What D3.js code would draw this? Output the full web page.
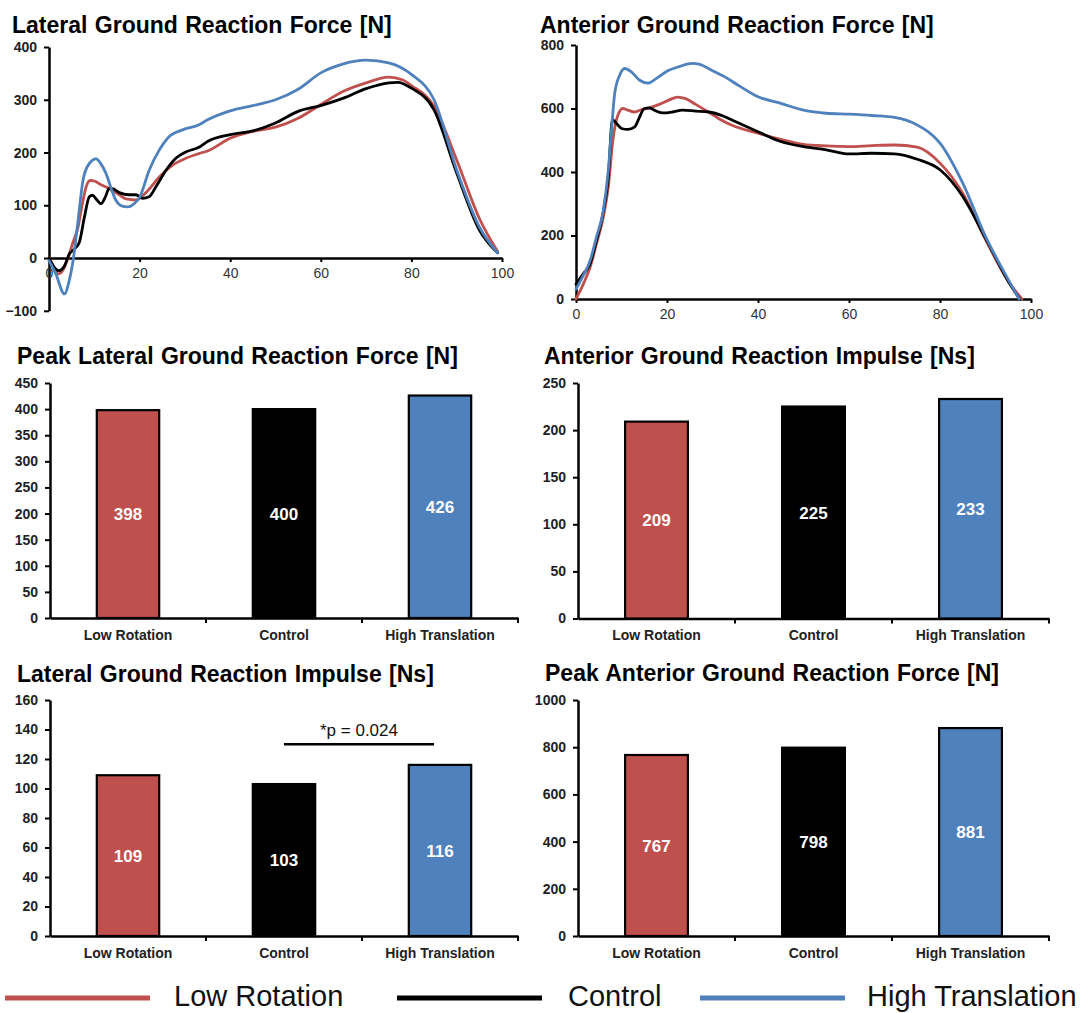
<!DOCTYPE html>
<html>
<head>
<meta charset="utf-8">
<script src="https://cdn.jsdelivr.net/npm/d3@7"></script>
<style>
  html, body { margin: 0; padding: 0; background: #fff; }
  svg { display: block; font-family: "Liberation Sans", Arial, sans-serif; }
</style>
</head>
<body>
<svg id="chart" width="1088" height="1013"></svg>
<script>
// ---------------- DATA ----------------
const categories = ["Low Rotation", "Control", "High Translation"];
const seriesNames = ["Low Rotation", "Control", "High Translation"];
const seriesColors = ["#C0504D", "#000000", "#4F81BD"];

// Lateral Ground Reaction Force [N] vs % stance
const latLow = [[0,0],[1,-15],[2,-30],[3,-24],[4.2,0],[5.3,30],[6.4,58],[7.3,100],[8.2,135],[9.1,147],[10,146],[11.1,141],[12.5,135],[14,128],[15.5,120],[17,112],[19.2,110],[21.4,124],[24.3,153],[27.3,176],[30.2,189],[33.1,198],[35,203],[40,227],[45,240],[50,248],[55,265],[60,291],[65,316],[70,332],[75,343],[78,338],[80,327],[85,288],[90,186],[95,75],[99,13]];
const latCtrl = [[0,0],[1.2,-18],[2.2,-24],[3.4,-15],[4.5,8],[5.6,17],[6.7,30],[7.8,77],[8.9,116],[9.6,119],[10.4,112],[11.5,103],[12.4,115],[13.3,132],[14.2,131],[15.5,124],[17.7,120],[19.2,120],[20.7,113],[22.1,116],[23.6,135],[25.8,166],[28,189],[30.2,201],[33.1,210],[35,221],[40,234],[45,241],[50,256],[55,278],[60,289],[65,303],[70,321],[75,332],[77,333],[80,322],[85,281],[90,161],[95,53],[99,10]];
const latHigh = [[0,-5],[1.5,-30],[3.4,-68],[4.4,-45],[5.4,0],[6.4,70],[7.5,147],[8.8,178],[10.4,188],[11.5,178],[12.6,160],[14,125],[14.8,109],[16,99],[17.4,97],[18.8,103],[20,115],[22.1,166],[24.3,204],[26.5,230],[29.5,243],[33,252],[35,262],[40,279],[45,289],[50,300],[55,320],[60,351],[65,368],[70,375],[75,370],[80,348],[85,300],[90,167],[95,59],[99,10]];

// Anterior Ground Reaction Force [N] vs % stance
const antLow = [[0,0],[1.6,47],[3.1,100],[4.5,174],[6,258],[7.1,353],[8.1,500],[9.2,579],[10.3,600],[11.4,595],[12.9,589],[14.3,596],[16.1,602],[18.3,613],[20.5,627],[22.3,636],[24.1,631],[26.3,613],[28.5,594],[31.4,568],[34.3,547],[40,522],[45,503],[50,487],[55,482],[60,480],[65,483],[70,485],[75,478],[80,428],[85,333],[90,187],[95,56],[98,0]];
const antCtrl = [[0,47],[1.6,79],[3.1,111],[4.5,184],[6,274],[7.1,384],[8,565],[8.9,553],[10,537],[11.4,534],[12.9,542],[14,574],[15,600],[16.1,602],[17.6,592],[19.1,586],[21.2,589],[23.4,595],[26.3,592],[29.2,589],[32.2,577],[35,559],[40,527],[45,496],[50,480],[55,470],[60,457],[65,459],[70,457],[75,440],[80,407],[85,323],[90,192],[95,56],[97.5,0]];
const antHigh = [[0,31],[1.6,74],[3.1,121],[4.5,195],[6,279],[7.1,405],[7.8,532],[8.5,647],[9.6,705],[10.7,726],[12.1,716],[14,689],[15.8,680],[17.6,694],[19.8,716],[22.7,732],[25.6,742],[27,740],[30,719],[32.9,698],[35.8,672],[40,637],[45,616],[50,595],[55,585],[60,582],[65,578],[70,572],[75,548],[80,491],[85,365],[90,197],[95,61],[97.4,0]];

// Bar values
const peakLateral = [398, 400, 426];
const antImpulse = [209, 225, 233];
const latImpulse = [109, 103, 116];
const peakAnterior = [767, 798, 881];

const latTicks = [-100, 0, 100, 200, 300, 400];
const antTicks = [0, 200, 400, 600, 800];
const pctTicks = [0, 20, 40, 60, 80, 100];
const peakLatTicks = [0, 50, 100, 150, 200, 250, 300, 350, 400, 450];
const antImpTicks = [0, 50, 100, 150, 200, 250];
const latImpTicks = [0, 20, 40, 60, 80, 100, 120, 140, 160];
const peakAntTicks = [0, 200, 400, 600, 800, 1000];

const sigLabel = "*p = 0.024";

// ---------------- DRAW ----------------
const svg = d3.select("#chart");
svg.append("rect").attr("width", 1088).attr("height", 1013).attr("fill", "#fff");

function title(x, y, text) {
  svg.append("text").attr("x", x).attr("y", y)
    .attr("font-size", 23).attr("font-weight", "bold").attr("fill", "#000")
    .attr("word-spacing", 1)
    .text(text);
}

function styleAxis(g) {
  g.select(".domain").attr("stroke", "#000").attr("stroke-width", 2.5);
  g.selectAll(".tick line").attr("stroke", "#000").attr("stroke-width", 2);
}

function yAxis(x0, y, ticks) {
  const g = svg.append("g").attr("transform", `translate(${x0},0)`)
    .call(d3.axisLeft(y).tickValues(ticks).tickSize(5).tickSizeOuter(0).tickPadding(7).tickFormat(d3.format("d")));
  styleAxis(g);
  g.selectAll(".tick text").attr("font-size", 14).attr("font-weight", "bold").attr("fill", "#222")
    .attr("font-family", "Liberation Sans, Arial, sans-serif");
  return g;
}

function lineChart(cfg) {
  const x = d3.scaleLinear().domain([0, 100]).range(cfg.xr);
  const y = d3.scaleLinear().domain(cfg.yd).range(cfg.yr);
  const line = d3.line().x(d => x(d[0])).y(d => y(d[1])).curve(d3.curveMonotoneX);
  yAxis(cfg.xr[0], y, cfg.yTicks);
  const gx = svg.append("g").attr("transform", `translate(0,${y(0)})`)
    .call(d3.axisBottom(x).tickValues(pctTicks).tickSize(4).tickSizeOuter(0).tickPadding(6));
  styleAxis(gx);
  gx.selectAll(".tick text").attr("font-size", 14).attr("fill", "#333")
    .attr("font-family", "Liberation Sans, Arial, sans-serif");
  cfg.series.forEach((s, i) => {
    svg.append("path").datum(s).attr("d", line)
      .attr("fill", "none").attr("stroke", seriesColors[i]).attr("stroke-width", 2.8)
      .attr("stroke-linejoin", "round").attr("stroke-linecap", "round");
  });
  title(cfg.tx, cfg.ty, cfg.title);
}

lineChart({ xr: [49, 502], yd: [-100, 400], yr: [310.8, 47], yTicks: latTicks,
  series: [latLow, latCtrl, latHigh], title: "Lateral Ground Reaction Force [N]", tx: 12, ty: 33 });
lineChart({ xr: [576, 1031], yd: [0, 800], yr: [299, 45], yTicks: antTicks,
  series: [antLow, antCtrl, antHigh], title: "Anterior Ground Reaction Force [N]", tx: 540, ty: 33 });

function barChart(cfg) {
  const x = d3.scaleBand().domain(categories).range(cfg.xr).paddingInner(0.6).paddingOuter(0.3);
  const y = d3.scaleLinear().domain([0, cfg.ticks[cfg.ticks.length - 1]]).range(cfg.yr);
  yAxis(cfg.xr[0], y, cfg.ticks);
  const gx = svg.append("g").attr("transform", `translate(0,${cfg.yr[0]})`)
    .call(d3.axisBottom(x).tickSize(0).tickSizeOuter(0).tickPadding(12));
  styleAxis(gx);
  gx.selectAll(".tick text").attr("font-size", 14).attr("font-weight", "bold").attr("fill", "#222")
    .attr("font-family", "Liberation Sans, Arial, sans-serif");
  const step = x.step();
  const bounds = d3.range(categories.length + 1).map(i => cfg.xr[0] + i * step);
  gx.selectAll(".bt").data(bounds.slice(1)).enter().append("line")
    .attr("x1", d => d).attr("x2", d => d).attr("y1", 0).attr("y2", 5)
    .attr("stroke", "#000").attr("stroke-width", 2);
  svg.append("g").selectAll("rect").data(cfg.values).enter().append("rect")
    .attr("x", (d, i) => x(categories[i]))
    .attr("y", d => y(d))
    .attr("width", x.bandwidth())
    .attr("height", d => y(0) - y(d))
    .attr("fill", (d, i) => seriesColors[i])
    .attr("stroke", "#000").attr("stroke-width", 2.2);
  svg.append("g").selectAll("text").data(cfg.values).enter().append("text")
    .attr("x", (d, i) => x(categories[i]) + x.bandwidth() / 2)
    .attr("y", d => (y(d) + y(0)) / 2)
    .attr("dy", "0.36em")
    .attr("text-anchor", "middle")
    .attr("font-size", 17).attr("font-weight", "bold").attr("fill", "#fff")
    .text(d => d);
  title(cfg.tx, cfg.ty, cfg.title);
  return { x, y };
}

barChart({ xr: [50, 518], yr: [618, 383], ticks: peakLatTicks, values: peakLateral,
  title: "Peak Lateral Ground Reaction Force [N]", tx: 17, ty: 364 });
barChart({ xr: [578, 1049], yr: [618.5, 383], ticks: antImpTicks, values: antImpulse,
  title: "Anterior Ground Reaction Impulse [Ns]", tx: 544, ty: 364 });
const li = barChart({ xr: [50, 518], yr: [936, 700], ticks: latImpTicks, values: latImpulse,
  title: "Lateral Ground Reaction Impulse [Ns]", tx: 17, ty: 682 });
barChart({ xr: [578, 1049], yr: [936, 700], ticks: peakAntTicks, values: peakAnterior,
  title: "Peak Anterior Ground Reaction Force [N]", tx: 545, ty: 681 });

// significance bar (Control to High Translation)
{
  const cx1 = li.x(categories[1]) + li.x.bandwidth() / 2;
  const cx2 = li.x(categories[2]) + li.x.bandwidth() / 2 - 6;
  const yy = li.y(130);
  svg.append("line").attr("x1", cx1).attr("x2", cx2).attr("y1", yy).attr("y2", yy)
    .attr("stroke", "#000").attr("stroke-width", 2.5);
  svg.append("text").attr("x", (cx1 + cx2) / 2).attr("y", li.y(140) + 6)
    .attr("text-anchor", "middle").attr("font-size", 17).attr("fill", "#111")
    .text(sigLabel);
}

// legend
{
  const lx = [5, 397, 700];
  const tx = [174, 568, 867];
  const ly = 998;
  seriesNames.forEach((n, i) => {
    svg.append("line").attr("x1", lx[i]).attr("x2", lx[i] + 145).attr("y1", ly).attr("y2", ly)
      .attr("stroke", seriesColors[i]).attr("stroke-width", 5);
    svg.append("text").attr("x", tx[i]).attr("y", 1006).attr("font-size", 29).attr("fill", "#111").text(n);
  });
}
</script>
</body>
</html>
